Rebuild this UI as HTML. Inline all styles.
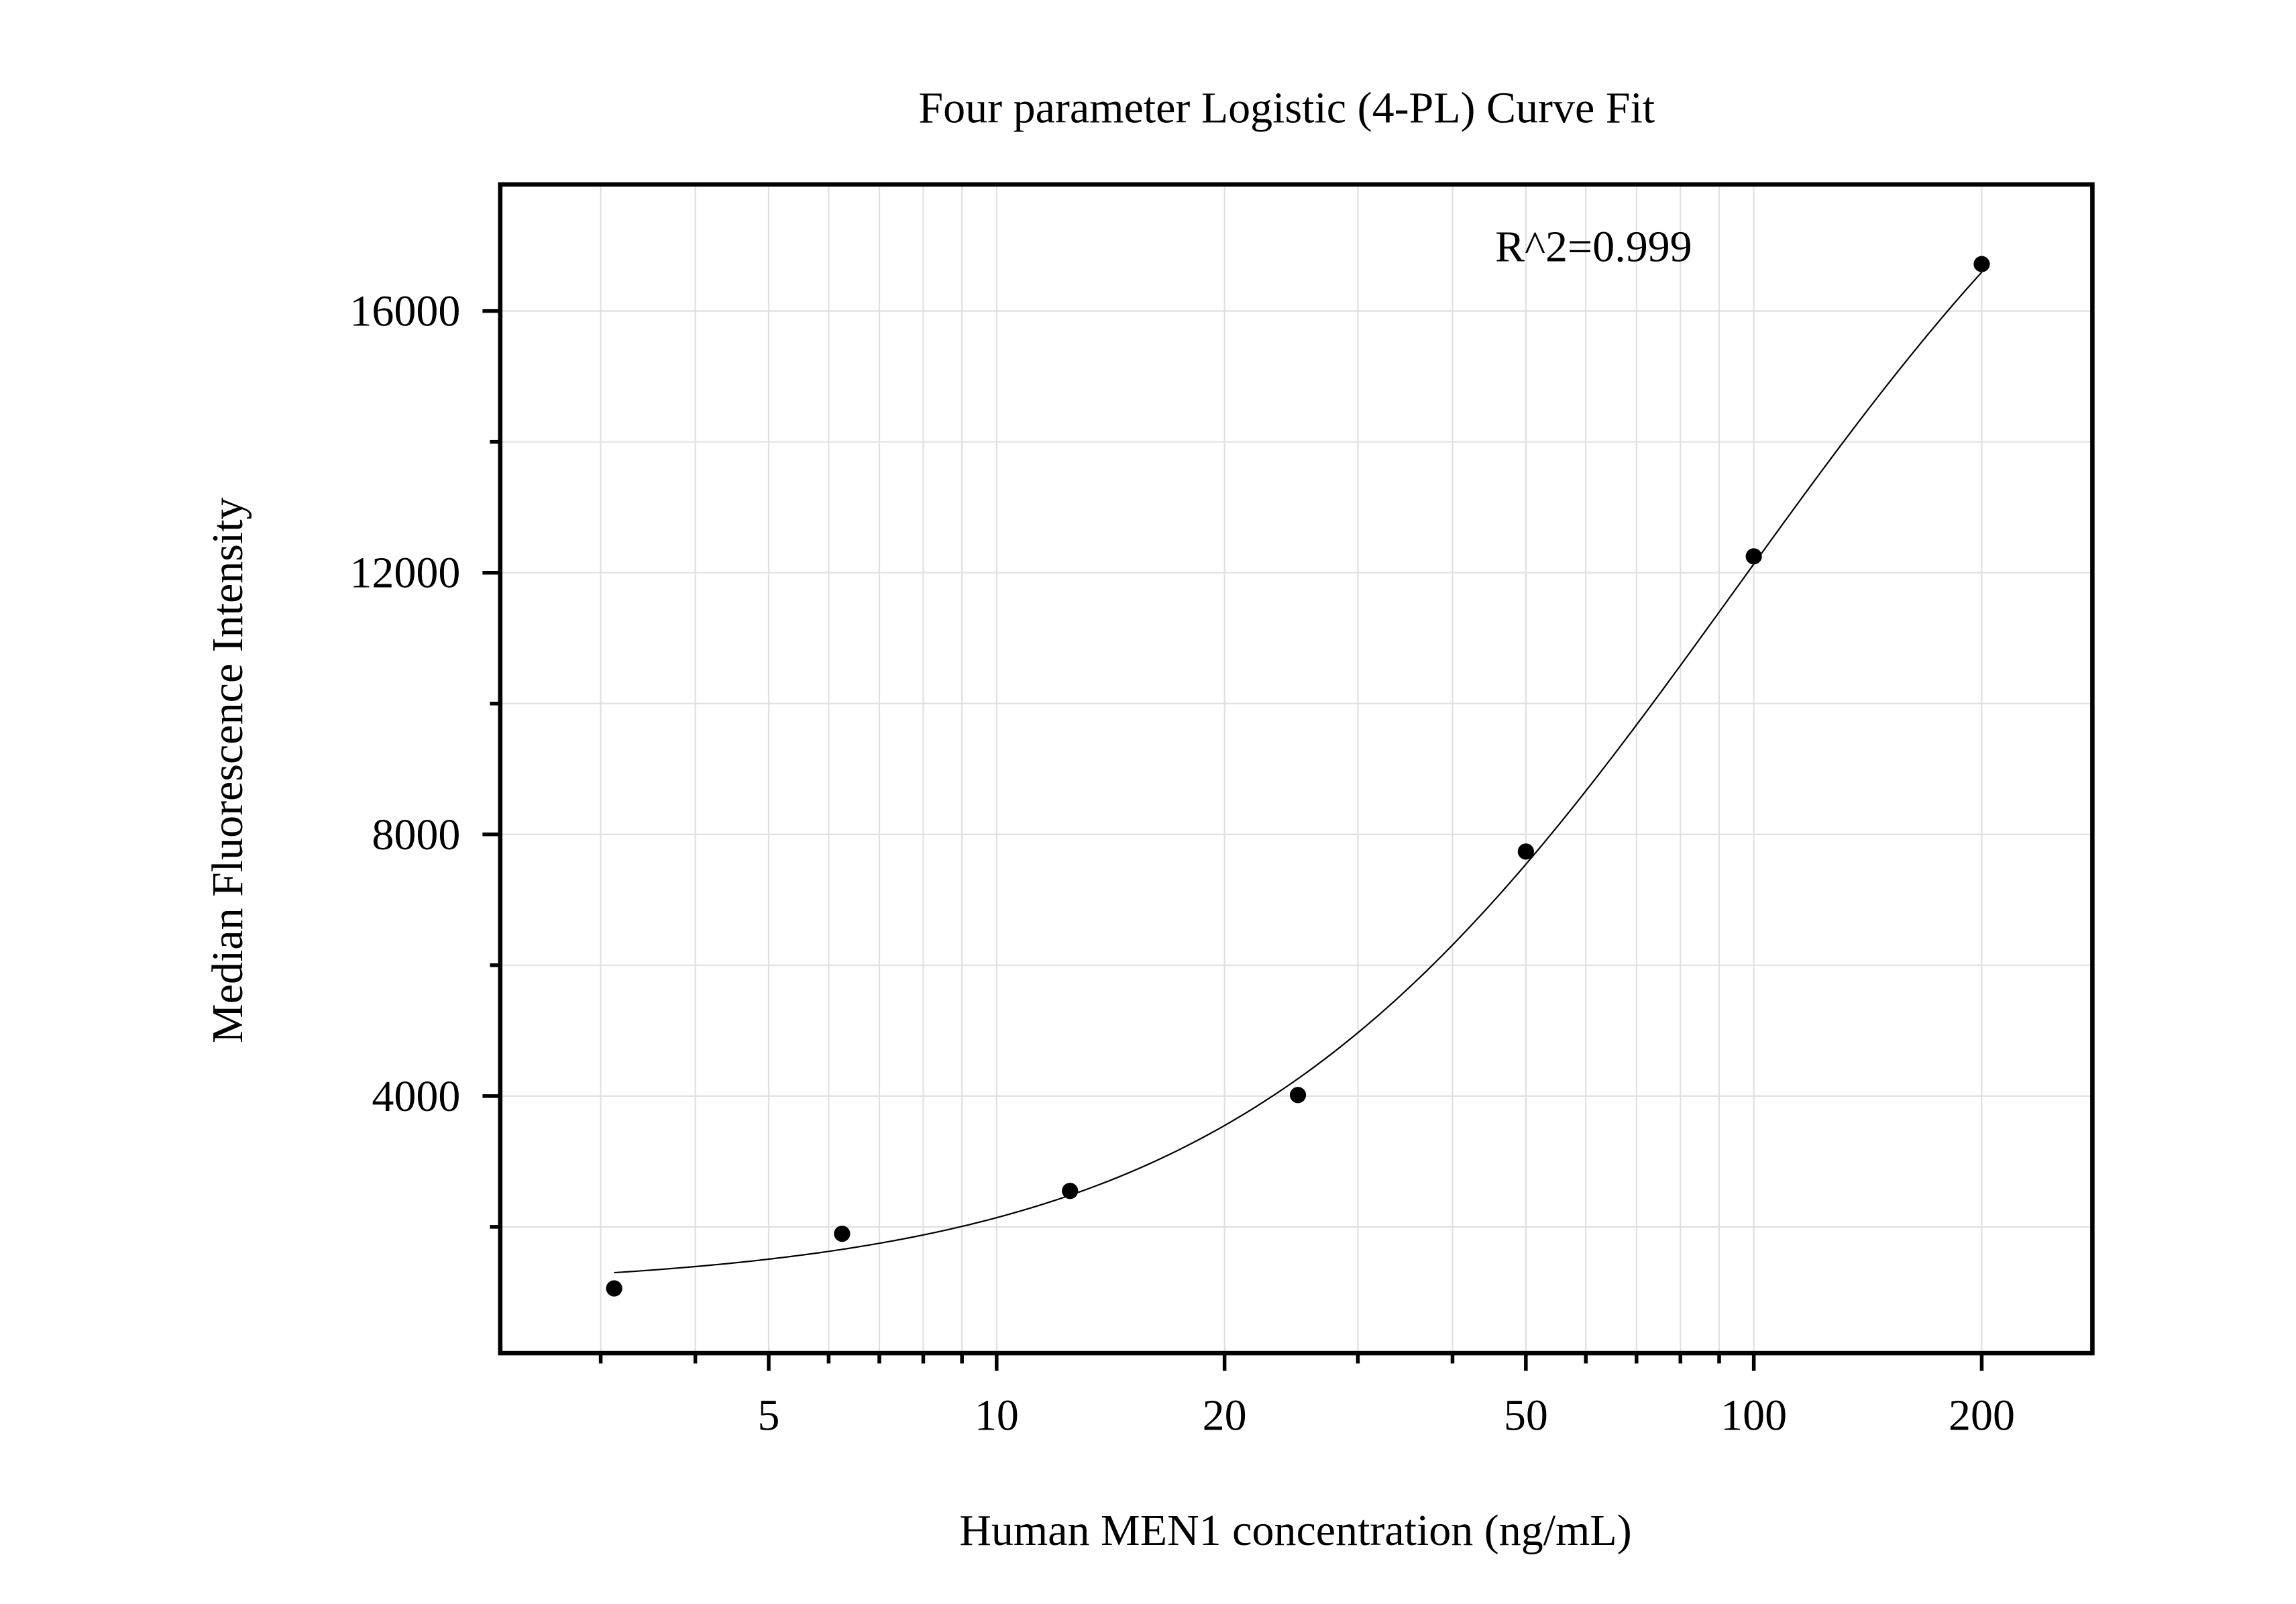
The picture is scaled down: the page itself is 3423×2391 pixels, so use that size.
<!DOCTYPE html>
<html><head><meta charset="utf-8"><style>
html,body{margin:0;padding:0;background:#fff;}
svg{display:block;}
text{font-family:"Liberation Serif",serif;fill:#000;}
</style></head><body>
<svg id="chart" width="3423" height="2391" viewBox="0 0 1556 1087" preserveAspectRatio="none" xmlns="http://www.w3.org/2000/svg">
<rect width="1556" height="1087" fill="#fff"/>
<g id="grid"></g>
<g id="ticks"></g>
<g id="curve-g"></g>
<g id="points-g"></g>
<rect x="339" y="125" width="1079" height="792" fill="none" stroke="#000" stroke-width="3"/>
<text x="872" y="83" font-size="30" text-anchor="middle">Four parameter Logistic (4-PL) Curve Fit</text>
<text x="1080" y="177" font-size="30" text-anchor="middle">R^2=0.999</text>
<text x="878" y="1047" font-size="30" text-anchor="middle">Human MEN1 concentration (ng/mL)</text>
<text x="0" y="0" font-size="30" text-anchor="middle" transform="translate(164,522) rotate(-90)">Median Fluorescence Intensity</text>
</svg>
<script>
const xData = [3.125, 6.25, 12.5, 25, 50, 100, 200];
const yData = [1060, 1895, 2550, 4016, 7738, 12250, 16718];
const fitParams = [1050, 1.3, 95, 22500]; // a (bottom), b (slope), c (EC50), d (top)
const yTickValues = [4000, 8000, 12000, 16000];
const yTickLabels = ["4000", "8000", "12000", "16000"];
const yMinorValues = [2000, 6000, 10000, 14000];
const xTickValues = [5, 10, 20, 50, 100, 200];
const xTickLabels = ["5", "10", "20", "50", "100", "200"];
const xMinorValues = [3,4,6,7,8,9,30,40,60,70,80,90];

const L=339,R=1418,T=125,B=917;
const xMin=Math.log10(2.21), xMax=Math.log10(280);
const yMin=70, yMax=17935;
const sx=v=>L+(Math.log10(v)-xMin)/(xMax-xMin)*(R-L);
const sy=v=>B-(v-yMin)/(yMax-yMin)*(B-T);
const NS="http://www.w3.org/2000/svg";
function mk(tag,attrs,parent){const e=document.createElementNS(NS,tag);for(const k in attrs)e.setAttribute(k,attrs[k]);parent.appendChild(e);return e;}
const grid=document.getElementById('grid'), ticks=document.getElementById('ticks');
const allX=xTickValues.concat(xMinorValues);
allX.forEach(v=>{const x=sx(v);
  const g=mk('line',{x1:x,x2:x,y1:T,y2:B,stroke:'#e0e0e0','stroke-width':1},grid);
  
  
  const major=xTickValues.includes(v);
  const t=mk('line',{x1:x,x2:x,y1:B,y2:B+(major?12:7),stroke:'#000','stroke-width':2.5},ticks);
  
  
});
yTickValues.concat(yMinorValues).forEach(v=>{const y=sy(v);
  const g=mk('line',{x1:L,x2:R,y1:y,y2:y,stroke:'#e0e0e0','stroke-width':1},grid);
  
  
  const major=yTickValues.includes(v);
  const t=mk('line',{x1:L-(major?12:7),x2:L,y1:y,y2:y,stroke:'#000','stroke-width':2.5},ticks);
  
  
});
xTickValues.forEach((v,i)=>{const t=mk('text',{x:sx(v),y:969,'font-size':30,'text-anchor':'middle'},ticks);t.textContent=xTickLabels[i];
  
  
});
yTickValues.forEach((v,i)=>{const t=mk('text',{x:312,y:sy(v)+10,'font-size':30,'text-anchor':'end'},ticks);t.textContent=yTickLabels[i];
  
  
});
const [a,b,c,d]=fitParams;
const f=x=>d+(a-d)/(1+Math.pow(x/c,b));
let pts=[];const lo=Math.log10(xData[0]),hi=Math.log10(xData[xData.length-1]);
for(let i=0;i<=200;i++){const x=Math.pow(10,lo+(hi-lo)*i/200);pts.push(sx(x).toFixed(2)+','+sy(f(x)).toFixed(2));}
const cv=mk('polyline',{points:pts.join(' '),fill:'none',stroke:'#000','stroke-width':1},document.getElementById('curve-g'));


xData.forEach((v,i)=>{const p=mk('circle',{cx:sx(v),cy:sy(yData[i]),r:5.5,fill:'#000'},document.getElementById('points-g'));
  
  
});
</script>
</body></html>
